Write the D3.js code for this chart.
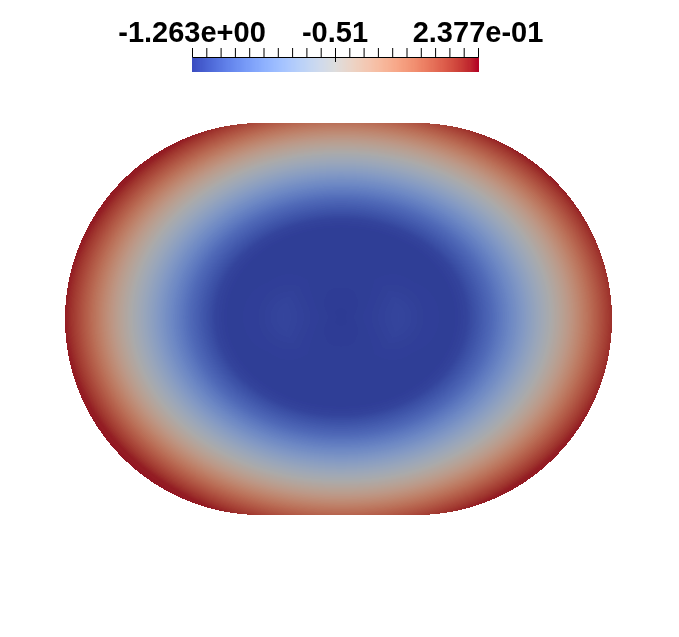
<!DOCTYPE html>
<html>
<head>
<meta charset="utf-8">
<script src="https://cdn.jsdelivr.net/npm/d3@7"></script>
<style>
	body { margin: 0; background: #fff; }
	#wrap { position: relative; width: 679px; height: 637px; }
	#wrap canvas, #wrap svg { position: absolute; left: 0; top: 0; }
</style>
</head>
<body>
<div id="wrap"></div>
<script>
// scalar range shown on the colour bar
var rangeMin = -1.263;
var rangeMax = 0.2377;
var labelTexts = ['-1.263e+00', '-0.51', '2.377e-01'];
var labelValues = [-1.263, -0.5127, 0.2377];
var tickCount = 21;

// ParaView "Cool to Warm" control colours
var coolWarm = [
	[59,76,192],[68,90,204],[77,104,215],[87,117,225],[98,130,234],[108,142,241],
	[119,154,247],[130,165,251],[141,176,254],[152,185,255],[163,194,255],[174,201,253],
	[184,208,249],[194,213,244],[204,217,238],[213,219,230],[221,221,221],[229,216,209],
	[236,211,197],[241,204,184],[245,196,173],[247,187,160],[247,177,148],[247,166,135],
	[244,154,123],[241,141,111],[236,127,99],[229,112,88],[222,96,77],[213,80,66],
	[203,62,56],[192,40,47],[180,4,38]
];

// field read along the elliptic radius (0 = centre, 1 = top edge)
var radii =        [0,      0.12,   0.23,   0.34,   0.45,   0.5,    0.6,    0.7,    0.8,    0.9,    1.0,    1.1,    1.2];
var valuesAlongX = [-1.263, -1.243, -1.218, -1.245, -1.252, -1.225, -1.055, -0.835, -0.603, -0.363, -0.077, 0.193, 0.2377];
var valuesAlongY = [-1.263, -1.255, -1.252, -1.252, -1.252, -1.225, -1.055, -0.835, -0.603, -0.363, -0.077, 0.193, 0.2377];

// domain geometry (model units, cap radius = 1)
const HALF_FLAT = 0.395;
const FIELD_CX = 0.013, FIELD_CY = 0.01;
const FIELD_A = 1.276, FIELD_B = 1.0;

const WIDTH = 679;
const HEIGHT = 637;
const SHADE = 0.77;

var colorScale = d3.scaleSequential(d3.piecewise(d3.interpolateRgb, coolWarm.map(function(c){
	return d3.rgb(c[0], c[1], c[2]);
}))).domain([rangeMin, rangeMax]);

// 256 entry lookup table like the renderer uses
var lut = d3.range(256).map(function(i){
	return d3.rgb(colorScale(rangeMin + (rangeMax - rangeMin) * i / 255));
});
var lutIndex = d3.scaleLinear().domain([rangeMin, rangeMax]).rangeRound([0, 255]).clamp(true);

var xScale = d3.scaleLinear().domain([-(HALF_FLAT + 1), HALF_FLAT + 1]).range([65, 612]);
var yScale = d3.scaleLinear().domain([1, -1]).range([123, 515]);

var profileX = d3.scaleLinear().domain(radii).range(valuesAlongX).clamp(true);
var profileY = d3.scaleLinear().domain(radii).range(valuesAlongY).clamp(true);

var wrap = d3.select('#wrap');

// field
var canvas = wrap.append('canvas')
	.attr('width', WIDTH)
	.attr('height', HEIGHT);
var ctx = canvas.node().getContext('2d');
var img = ctx.createImageData(WIDTH, HEIGHT);

var x0 = Math.floor(xScale.range()[0]) - 2, x1 = Math.ceil(xScale.range()[1]) + 2;
var y0 = Math.floor(yScale.range()[0]) - 2, y1 = Math.ceil(yScale.range()[1]) + 2;

for (var py = y0; py < y1; py++) {
	for (var px = x0; px < x1; px++) {
		var mx = xScale.invert(px + 0.5);
		var my = yScale.invert(py + 0.5);
		var sx = Math.max(Math.abs(mx) - HALF_FLAT, 0);
		if (sx * sx + my * my > 1) continue;

		var ex = (mx - FIELD_CX) / FIELD_A;
		var ey = (my - FIELD_CY) / FIELD_B;
		var rho = Math.sqrt(ex * ex + ey * ey);
		var w = rho > 0 ? (ex * ex) / (rho * rho) : 1;
		w = w * w;
		var v = w * profileX(rho) + (1 - w) * profileY(rho);
		var c = lut[lutIndex(v)];

		var k = (py * WIDTH + px) * 4;
		img.data[k] = c.r * SHADE;
		img.data[k + 1] = c.g * SHADE;
		img.data[k + 2] = c.b * SHADE;
		img.data[k + 3] = 255;
	}
}
ctx.putImageData(img, 0, 0);

// colour bar
var svg = wrap.append('svg')
	.attr('width', WIDTH)
	.attr('height', HEIGHT);

var barScale = d3.scaleLinear().domain([rangeMin, rangeMax]).range([192, 478]);
var barTop = 57, barHeight = 15;

var columns = d3.range(barScale.range()[0], barScale.range()[1] + 1);
svg.append('g').selectAll('rect').data(columns)
	.enter().append('rect')
	.attr('x', function(d){ return d; })
	.attr('y', barTop)
	.attr('width', 1)
	.attr('height', barHeight)
	.attr('fill', function(d){
		return lut[lutIndex(barScale.invert(d + 0.5))];
	});

var tickValues = d3.range(tickCount).map(function(i){
	return rangeMin + (rangeMax - rangeMin) * i / (tickCount - 1);
});

svg.append('g')
	.attr('transform', 'translate(0,' + barTop + ')')
	.call(d3.axisTop(barScale).tickValues(tickValues).tickSize(9).tickSizeOuter(0).tickFormat(''))
	.call(function(g){ g.selectAll('line, path').attr('stroke', '#000'); });

svg.append('line')
	.attr('x1', barScale(labelValues[1]) + 0.5)
	.attr('x2', barScale(labelValues[1]) + 0.5)
	.attr('y1', barTop)
	.attr('y2', barTop + 5)
	.attr('stroke', '#000');

svg.append('g').selectAll('text').data(labelTexts)
	.enter().append('text')
	.attr('x', function(d, i){ return barScale(labelValues[i]); })
	.attr('y', 42)
	.attr('text-anchor', 'middle')
	.style('font-family', '"Liberation Sans", Arial, sans-serif')
	.style('font-weight', 'bold')
	.style('font-size', '29px')
	.attr('fill', '#000')
	.text(function(d){ return d; });
</script>
</body>
</html>
